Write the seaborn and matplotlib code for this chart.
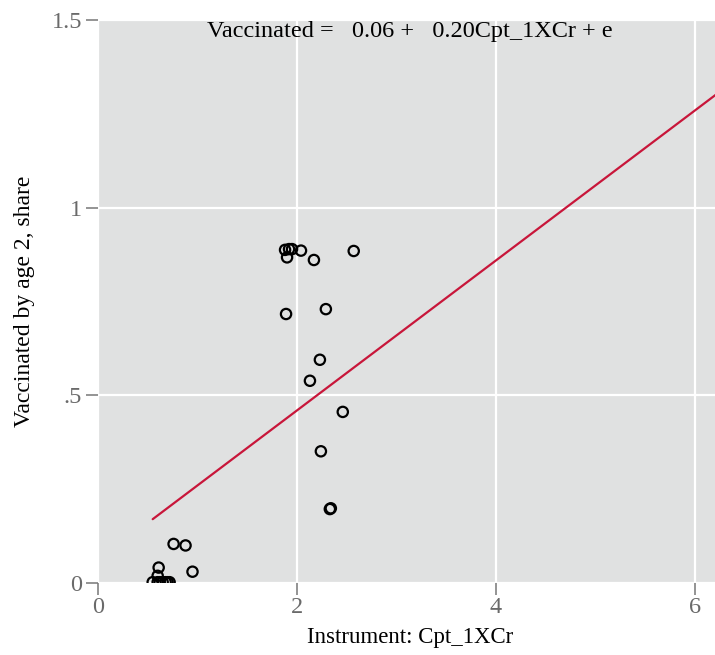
import matplotlib
matplotlib.use("Agg")
import matplotlib.pyplot as plt
import seaborn as sns
import numpy as np
import pandas as pd

# Data
instrument = [0.55, 0.60, 0.62, 0.65, 0.68, 0.70, 0.72, 0.61, 0.60, 0.76, 0.88, 0.95,
              1.88, 1.92, 1.95, 1.90, 2.04, 2.17, 2.57, 1.89, 2.29,
              2.23, 2.13, 2.46, 2.24, 2.33, 2.34]
vaccinated = [0.002, 0.002, 0.002, 0.002, 0.002, 0.002, 0.002, 0.041, 0.019, 0.104, 0.100, 0.030,
              0.888, 0.890, 0.890, 0.868, 0.886, 0.861, 0.885, 0.717, 0.730,
              0.595, 0.539, 0.456, 0.351, 0.197, 0.199]
intercept = 0.06
slope = 0.20
x_ticks = [0, 2, 4, 6]
x_tick_labels = ["0", "2", "4", "6"]
y_ticks = [0, 0.5, 1, 1.5]
y_tick_labels = ["0", ".5", "1", "1.5"]

df = pd.DataFrame({"x": instrument, "y": vaccinated})

sns.set_theme(style="darkgrid")
plt.rcParams["font.family"] = ["Liberation Serif", "DejaVu Serif"]

fig = plt.figure(figsize=(7.15, 6.55), dpi=100)
ax = fig.add_axes([0.137, 0.110, 0.863, 0.859])
ax.set_facecolor("#e0e1e1")

line_x = np.array([min(instrument), 6.6])
line_df = pd.DataFrame({"x": line_x, "y": intercept + slope * line_x})
sns.lineplot(data=line_df, x="x", y="y", ax=ax, color="#c8163a", linewidth=1.6, zorder=3)
sns.scatterplot(data=df, x="x", y="y", ax=ax, s=55, facecolors="none",
                edgecolor="black", linewidth=1.6, zorder=4)

ax.set_xlim(0, 6.2)
ax.set_ylim(0, 1.5)
ax.set_xticks(x_ticks)
ax.set_xticklabels(x_tick_labels)
ax.set_yticks(y_ticks)
ax.set_yticklabels(y_tick_labels)
ax.grid(True, color="white", linewidth=1.6)
for s in ax.spines.values():
    s.set_visible(False)
ax.tick_params(axis="both", which="major", bottom=True, left=True, length=8.5, width=1.1,
               color="#777777", labelcolor="#6a6a6a", labelsize=17.5, direction="out")
ax.tick_params(axis="y", pad=3)
ax.tick_params(axis="x", pad=1.5)
ax.set_xlabel("Instrument: Cpt_1XCr", fontsize=16.5, color="black")
ax.set_ylabel("Vaccinated by age 2, share", fontsize=17, color="black")
ax.xaxis.label.set_va("baseline")
ax.xaxis.set_label_coords(0.506, -0.1066)
ax.yaxis.label.set_va("baseline")
ax.yaxis.set_label_coords(-0.110, 0.5)
ax.text(0.506, 0.970, "Vaccinated =   0.06 +   0.20Cpt_1XCr + e", transform=ax.transAxes,
        ha="center", va="baseline", fontsize=17.5, color="black")

fig.savefig("out.png", dpi=100)
